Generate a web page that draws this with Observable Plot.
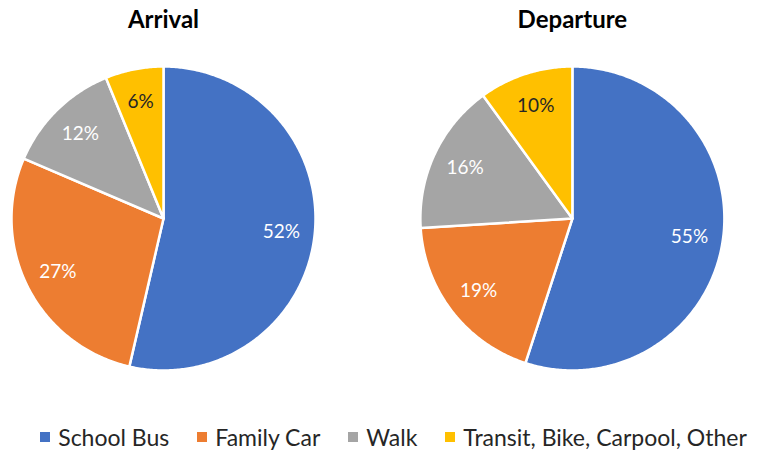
<!DOCTYPE html>
<html>
<head>
<meta charset="utf-8">
<script src="https://cdn.jsdelivr.net/npm/d3@7"></script>
<script src="https://cdn.jsdelivr.net/npm/@observablehq/plot@0.6"></script>
<style>
  body { margin: 0; background: #fff; font-family: Lato, "Open Sans", sans-serif; }
  #legend { display: flex; justify-content: center; align-items: center; padding-left: 14px; height: 54px; margin-top: 0; font-size: 23px; color: #262626; white-space: nowrap; }
  .item { display: flex; align-items: center; margin: 0 14px; }
  .sw { width: 10px; height: 10px; margin-right: 8px; }
</style>
</head>
<body>
<div id="chart"></div>
<div id="legend"></div>
<script>
const categories = ["School Bus", "Family Car", "Walk", "Transit, Bike, Carpool, Other"];
const colors = ["#4472C4", "#ED7D31", "#A5A5A5", "#FFC000"];
const labelColors = ["#ffffff", "#ffffff", "#ffffff", "#262626"];
const arrival = [52, 27, 12, 6];
const departure = [55, 19, 16, 10];
const titles = ["Arrival", "Departure"];

const W = 773, H = 410, PX = 152;
const centers = [0, 2.69];
const pies = [arrival, departure];

const pie = d3.pie().sort(null).startAngle(0).endAngle(2 * Math.PI);
const marks = [];
const labels = [];
pies.forEach((vals, p) => {
  const cx = centers[p];
  pie(vals).forEach((s, i) => {
    const pts = [[cx, 0]];
    const n = Math.max(4, Math.ceil((s.endAngle - s.startAngle) / 0.01));
    for (let k = 0; k <= n; k++) {
      const a = s.startAngle + (s.endAngle - s.startAngle) * k / n;
      pts.push([cx + Math.sin(a), Math.cos(a)]);
    }
    marks.push(Plot.line(pts, {
      x: d => d[0], y: d => d[1], curve: "linear-closed",
      fill: colors[i], stroke: "white", strokeWidth: 2.5, strokeLinejoin: "round"
    }));
    const mid = (s.startAngle + s.endAngle) / 2;
    labels.push({ x: cx + 0.78 * Math.sin(mid), y: 0.78 * Math.cos(mid), text: vals[i] + "%", color: labelColors[i] });
  });
});

marks.push(Plot.text(labels, {
  x: "x", y: "y", text: "text", fill: d => d.color,
  fontSize: 19, fontFamily: "Lato, 'Open Sans', sans-serif"
}));
marks.push(Plot.text(titles, {
  x: (d, i) => centers[i], y: (218 - 20) / PX, text: d => d,
  fontSize: 24, fontWeight: "bold", fill: "#000", fontFamily: "Lato, 'Open Sans', sans-serif"
}));

const chart = Plot.plot({
  width: W, height: H,
  margin: 0,
  x: { domain: [-163 / PX, (W - 163) / PX], axis: null },
  y: { domain: [-(H - 218) / PX, 218 / PX], axis: null },
  style: { background: "white", overflow: "visible" },
  marks
});
document.getElementById("chart").appendChild(chart);

const legend = document.getElementById("legend");
categories.forEach((c, i) => {
  const it = document.createElement("div");
  it.className = "item";
  it.innerHTML = `<span class="sw" style="background:${colors[i]}"></span><span>${c}</span>`;
  legend.appendChild(it);
});
</script>
</body>
</html>
